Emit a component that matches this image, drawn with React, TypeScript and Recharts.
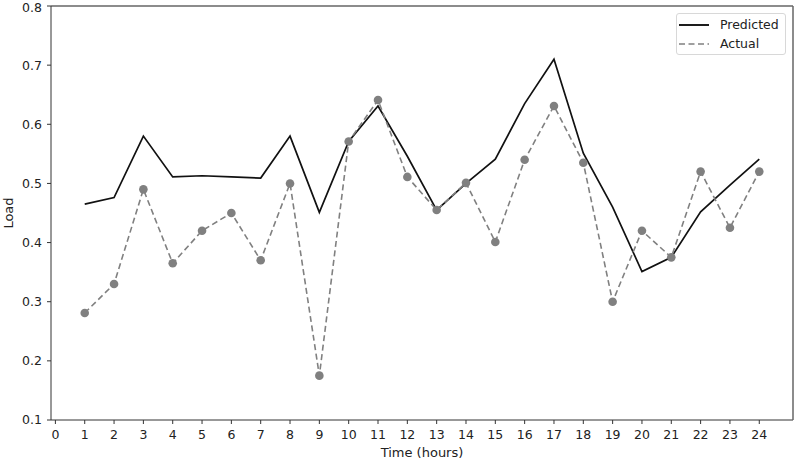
import React from 'react';
import { LineChart, Line, XAxis, YAxis } from 'recharts';

// hours 1..24
const hours = [1, 2, 3, 4, 5, 6, 7, 8, 9, 10, 11, 12, 13, 14, 15, 16, 17, 18, 19, 20, 21, 22, 23, 24];
const predicted = [0.465, 0.476, 0.58, 0.511, 0.513, 0.511, 0.509, 0.58, 0.451, 0.571, 0.631, 0.546, 0.455, 0.5, 0.541, 0.635, 0.71, 0.551, 0.46, 0.351, 0.375, 0.452, 0.497, 0.541];
const actual = [0.281, 0.33, 0.49, 0.365, 0.42, 0.45, 0.37, 0.5, 0.175, 0.571, 0.641, 0.511, 0.455, 0.501, 0.401, 0.54, 0.631, 0.535, 0.3, 0.42, 0.375, 0.52, 0.425, 0.52];
const xTicks = [0, 1, 2, 3, 4, 5, 6, 7, 8, 9, 10, 11, 12, 13, 14, 15, 16, 17, 18, 19, 20, 21, 22, 23, 24];
const yTicks = [0.1, 0.2, 0.3, 0.4, 0.5, 0.6, 0.7, 0.8];

const data = hours.map((h, i) => ({ hour: h, predicted: predicted[i], actual: actual[i] }));

const FONT = '"DejaVu Sans", sans-serif';
const AXIS = '#333';
const GRAY = '#808080';
const TEXT = '#222';

const XLabel = (props: any) => {
  const vb = props.viewBox || {};
  return (
    <text x={vb.x + vb.width / 2} y={vb.y + 37} textAnchor="middle" fill={TEXT} fontSize={13} fontFamily={FONT}>
      Time (hours)
    </text>
  );
};

const YLabel = (props: any) => {
  const vb = props.viewBox || {};
  const cy = vb.y + vb.height / 2;
  return (
    <text x={12.5} y={cy} transform={`rotate(-90, 12.5, ${cy})`} textAnchor="middle" fill={TEXT} fontSize={13} fontFamily={FONT}>
      Load
    </text>
  );
};

const App: React.FC = () => {
  return (
    <div style={{ width: 780, height: 446 }}>
      {/* fixed so the chart can use the full window, body margin included */}
      <div style={{ position: 'fixed', left: 0, top: 0, width: 796, height: 462, background: '#fff', fontFamily: FONT }}>
        <LineChart width={796} height={462} data={data} margin={{ top: 5, right: 2, left: 0, bottom: 0 }}>
          <XAxis
            dataKey="hour"
            type="number"
            domain={[-0.15, 25.15]}
            allowDataOverflow
            ticks={xTicks}
            interval={0}
            height={42}
            tickSize={4}
            tickMargin={6}
            stroke={AXIS}
            tick={{ fill: TEXT, fontSize: 12.5, fontFamily: FONT }}
            label={<XLabel />}
          />
          {/* top spine */}
          <XAxis
            xAxisId="top"
            orientation="top"
            dataKey="hour"
            type="number"
            domain={[-0.15, 25.15]}
            allowDataOverflow
            height={1}
            tick={false}
            tickLine={false}
            stroke="#666"
            strokeWidth={1.5}
          />
          <YAxis
            type="number"
            domain={[0.1, 0.8]}
            allowDataOverflow
            ticks={yTicks}
            width={51}
            tickSize={4}
            tickMargin={5}
            stroke={AXIS}
            tickFormatter={(v: number) => v.toFixed(1)}
            tick={{ fill: TEXT, fontSize: 12.5, fontFamily: FONT }}
            label={<YLabel />}
          />
          {/* right spine */}
          <YAxis
            yAxisId="right"
            orientation="right"
            type="number"
            domain={[0.1, 0.8]}
            width={1}
            tick={false}
            tickLine={false}
            stroke="#666"
            strokeWidth={1.5}
          />
          <Line
            dataKey="predicted"
            type="linear"
            stroke="#111"
            strokeWidth={1.7}
            dot={false}
            activeDot={false}
            isAnimationActive={false}
          />
          <Line
            dataKey="actual"
            type="linear"
            stroke={GRAY}
            strokeWidth={1.6}
            strokeDasharray="6 3.5"
            dot={{ r: 4.3, fill: GRAY, stroke: 'none' }}
            activeDot={false}
            isAnimationActive={false}
          />
        </LineChart>
        <div
          style={{
            position: 'absolute',
            left: 676,
            top: 13,
            width: 110,
            height: 42,
            border: '1px solid #d8d8d8',
            borderRadius: 3,
            background: 'rgba(255,255,255,0.85)',
            fontSize: 12.5,
            color: TEXT,
            boxSizing: 'border-box',
          }}
        >
          <div style={{ position: 'absolute', left: 2, top: 2, height: 17, display: 'flex', alignItems: 'center' }}>
            <svg width={30} height={4} style={{ marginRight: 11 }}>
              <line x1={0} y1={2} x2={30} y2={2} stroke="#111" strokeWidth={1.9} />
            </svg>
            <span>Predicted</span>
          </div>
          <div style={{ position: 'absolute', left: 2, top: 21, height: 17, display: 'flex', alignItems: 'center' }}>
            <svg width={30} height={4} style={{ marginRight: 11 }}>
              <line x1={0} y1={2} x2={30} y2={2} stroke={GRAY} strokeWidth={1.6} strokeDasharray="6 3.5" />
            </svg>
            <span>Actual</span>
          </div>
        </div>
      </div>
    </div>
  );
};

export default App;
